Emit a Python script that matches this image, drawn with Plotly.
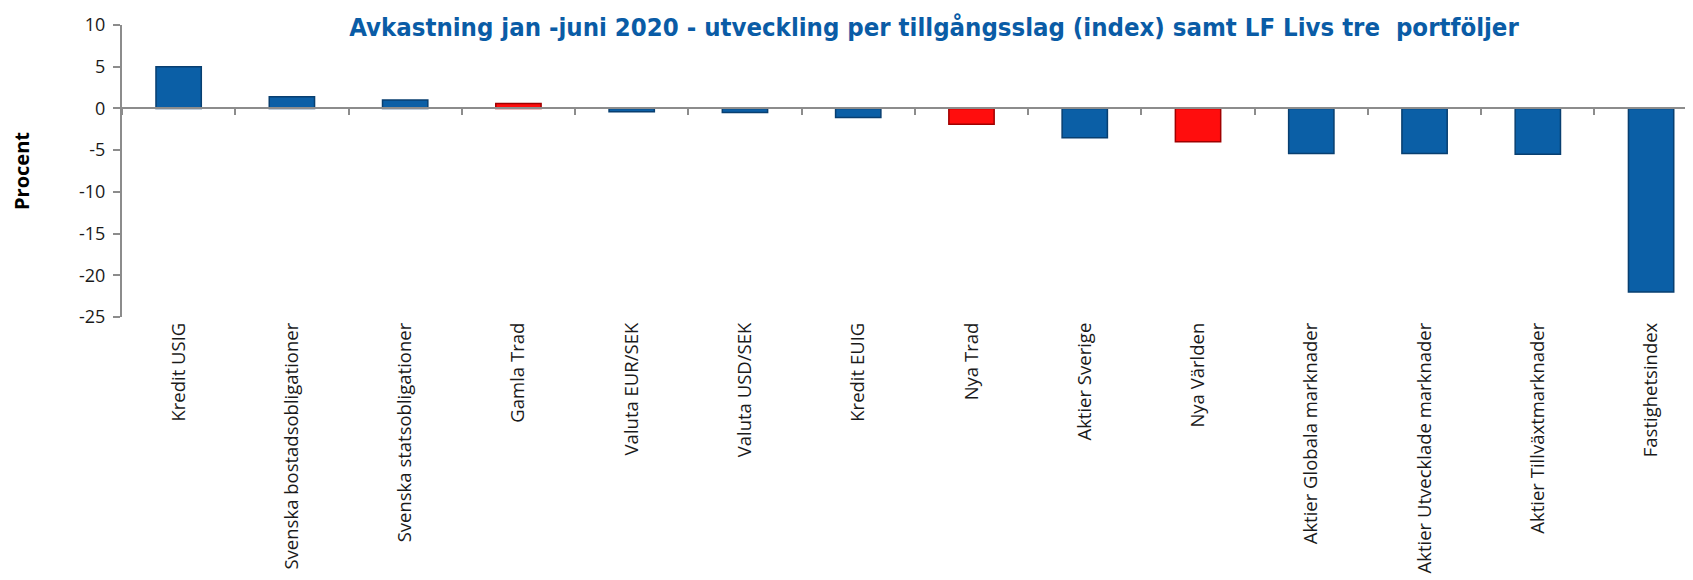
import plotly.graph_objects as go

categories = [
    "Kredit USIG", "Svenska bostadsobligationer", "Svenska statsobligationer",
    "Gamla Trad", "Valuta EUR/SEK", "Valuta USD/SEK", "Kredit EUIG", "Nya Trad",
    "Aktier Sverige", "Nya Världen", "Aktier Globala marknader",
    "Aktier Utvecklade marknader", "Aktier Tillväxtmarknader", "Fastighetsindex",
]
values = [5.0, 1.4, 1.0, 0.6, -0.4, -0.5, -1.1, -1.9, -3.5, -4.0, -5.4, -5.4, -5.5, -22.0]
portfolios = ["Gamla Trad", "Nya Trad", "Nya Världen"]
y_tickvals = [10, 5, 0, -5, -10, -15, -20, -25]
y_ticktext = ["10", "5", "0", "-5", "-10", "-15", "-20", "-25"]

BLUE = "#0b5fa6"
BLUE_EDGE = "#083f70"
RED = "#ff0d0d"
RED_EDGE = "#a00000"

colors = [RED if c in portfolios else BLUE for c in categories]
edges = [RED_EDGE if c in portfolios else BLUE_EDGE for c in categories]

fig = go.Figure()
fig.add_trace(go.Bar(
    x=categories, y=values, width=0.4,
    marker=dict(color=colors, line=dict(color=edges, width=1.5)),
    showlegend=False, hoverinfo="x+y",
))
# invisible trace on helper axis that carries the zero line and boundary ticks
fig.add_trace(go.Scatter(x=categories, y=[0] * len(categories), xaxis="x2",
                         mode="markers", marker=dict(opacity=0), showlegend=False,
                         hoverinfo="skip"))

# the page body has an 8px margin, so the figure is 8px smaller than the window
W, H = 1685, 572
xr = [-0.5, 13.37]
fig.update_layout(
    width=W, height=H,
    margin=dict(l=114, r=0, t=17, b=263, autoexpand=False),
    paper_bgcolor="white", plot_bgcolor="white",
    title=dict(
        text="Avkastning jan -juni 2020 - utveckling per tillgångsslag (index) samt LF Livs tre  portföljer",
        font=dict(family="DejaVu Sans Condensed", size=25.5, color="#0a5ca6", weight="bold"),
        x=926 / W, xref="container", xanchor="center",
        y=1 - 19 / H, yref="container", yanchor="middle",
    ),
    xaxis=dict(
        type="category", range=xr, showline=False, ticks="",
        tickangle=-90, ticklabelstandoff=1, automargin=False,
        tickfont=dict(family="Open Sans", size=18.5, color="#1a1a1a"),
        showgrid=False, zeroline=False,
    ),
    xaxis2=dict(
        type="category", overlaying="x", anchor="free", position=25 / 35,
        range=xr, showline=True, linecolor="#8c8c8c", linewidth=2,
        ticks="outside", tickson="boundaries", ticklen=6, tickcolor="#8c8c8c",
        tickwidth=1.5, showticklabels=False, showgrid=False, zeroline=False,
        side="bottom", automargin=False,
    ),
    yaxis=dict(
        range=[-25, 10], tickvals=y_tickvals, ticktext=y_ticktext,
        showline=True, linecolor="#8c8c8c", linewidth=2,
        ticks="outside", ticklen=7, tickcolor="#8c8c8c", tickwidth=1.5,
        ticklabelstandoff=4,
        tickfont=dict(family="Open Sans", size=18, color="#1a1a1a"),
        showgrid=False, zeroline=False, automargin=False,
        title=dict(text="Procent", font=dict(family="Open Sans", size=20, color="black", weight="bold"),
                   standoff=50),
    ),
)

fig.write_html("out.html")
